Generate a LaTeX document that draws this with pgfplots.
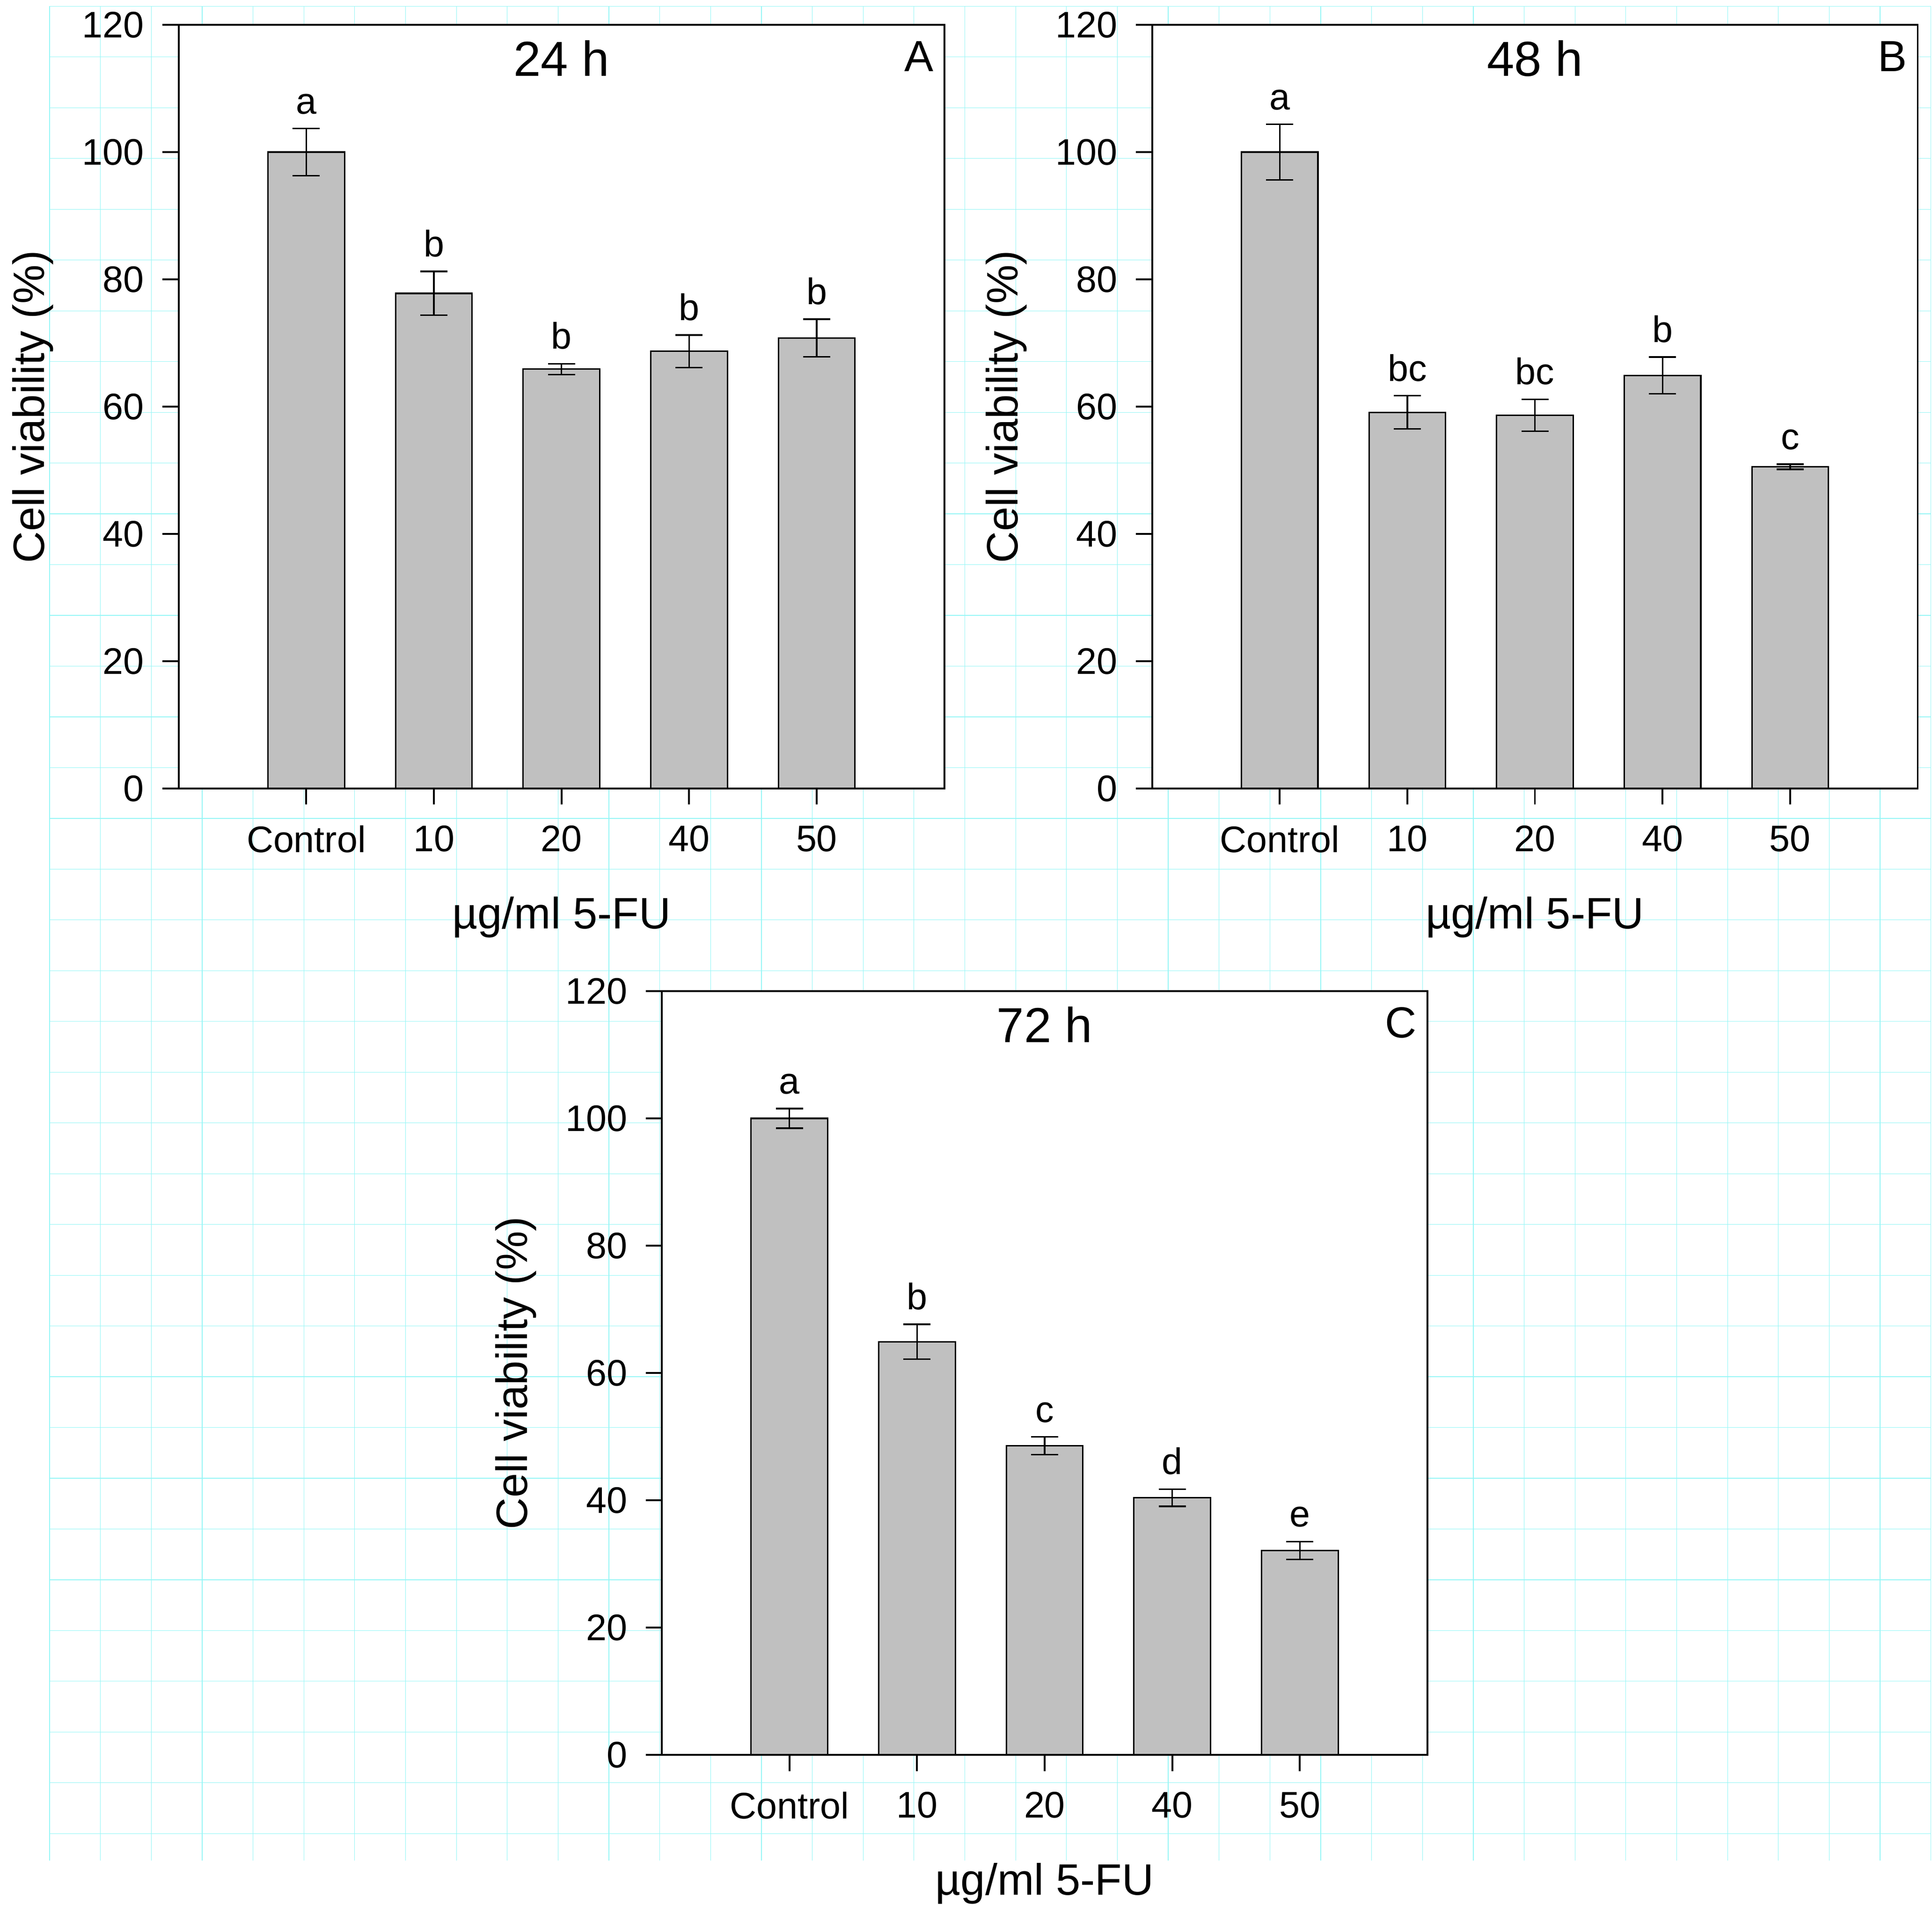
\documentclass[border=0pt]{standalone}
\usepackage{fontspec}
\setmainfont{Liberation Sans}
\usepackage{pgfplots}
\pgfplotsset{compat=1.18}
\definecolor{barGray}{RGB}{192,192,192}
\definecolor{pageGrid}{RGB}{150,246,246}

\tikzset{
  panelletter/.style={anchor=base east, inner sep=0pt, font=\fontsize{9.3}{11}\selectfont},
  paneltitle/.style={anchor=base, inner sep=0pt, font=\fontsize{10.5}{12}\selectfont},
}

\pgfplotsset{
  panel/.style={
    anchor=south west,
    scale only axis, width=163.6pt, height=163.2pt,
    xmin=0, xmax=6, ymin=0, ymax=120,
    xtick={1,2,3,4,5}, xticklabels={Control,10,20,40,50},
    ytick={0,20,...,120},
    tick align=outside, xtick pos=bottom, ytick pos=left,
    major tick length=3.45pt,
    tick style={black, line width=0.38pt},
    axis line style={black, line width=0.38pt},
    axis background/.style={fill=white},
    tick label style={font=\fontsize{7.9}{9}\selectfont},
    /pgf/number format/assume math mode=true,
    yticklabel style={inner sep=0pt, xshift=-3.75pt},
    xticklabel style={inner sep=0pt, yshift=-4.25pt},
    xlabel={µg/ml 5-FU}, ylabel={Cell viability (\%)},
    label style={font=\fontsize{9.4}{11}\selectfont},
    xlabel style={at={(axis description cs:0.5,-0.1838)}, anchor=base, inner sep=0pt},
    ylabel style={at={(axis description cs:-0.1905,0.5)}, anchor=center, inner sep=0pt},
    clip=false,
  },
  bars/.style={
    ybar, bar shift=0pt, bar width=0.6, fill=barGray, draw=black, line width=0.32pt,
    error bars/y dir=both, error bars/y explicit,
    error bars/error bar style={line width=0.32pt, black, solid},
    error bars/error mark options={rotate=90, line width=0.32pt, black, mark size=2.9pt},
  },
  letters/.style={
    draw=none, mark=none, nodes near coords, point meta=explicit symbolic,
    nodes near coords align={anchor=base},
    every node near coord/.append style={anchor=base, yshift=3.16pt, inner sep=0pt,
      font=\fontsize{7.9}{9}\selectfont, text=black},
  },
}

\begin{document}
\begin{tikzpicture}
\useasboundingbox (0,0) rectangle (412.8pt,410.2pt);

% page grid in the background
\begin{axis}[
  at={(10.6pt,12.6pt)}, anchor=south west,
  scale only axis, width=401.97pt, height=396.26pt,
  xmin=0, xmax=37, ymin=-36.532, ymax=0,
  xtick={0,...,37}, ytick={-36,...,0},
  xticklabels={}, yticklabels={},
  tick label style={opacity=0},
  grid=major, major grid style={line width=0.12pt, draw=pageGrid},
  axis line style={draw=none}, major tick length=0pt,
]
\addplot[draw=none, mark=none] coordinates {(0,0)};
\end{axis}

% Panel A: 24 h
\begin{axis}[panel, at={(38.17pt,241.7pt)}]
\addplot[bars] coordinates {
  (1,100.0) +- (0,3.7)
  (2,77.8)  +- (0,3.45)
  (3,65.9)  +- (0,0.85)
  (4,68.7)  +- (0,2.55)
  (5,70.8)  +- (0,2.95)
};
\addplot[letters] coordinates {
  (1,103.7)[a] (2,81.25)[b] (3,66.75)[b] (4,71.25)[b] (5,73.75)[b]
};
\node[paneltitle] at (axis description cs:0.5,0.9326) {24 h};
\node[panelletter] at (axis description cs:0.98716,0.93903) {A};
\end{axis}

% Panel B: 48 h
\begin{axis}[panel, at={(246.16pt,241.7pt)}]
\addplot[bars] coordinates {
  (1,100.0) +- (0,4.35)
  (2,59.1)  +- (0,2.6)
  (3,58.65) +- (0,2.5)
  (4,64.9)  +- (0,2.9)
  (5,50.55) +- (0,0.4)
};
\addplot[letters] coordinates {
  (1,104.35)[a] (2,61.7)[bc] (3,61.15)[bc] (4,67.8)[b] (5,50.95)[c]
};
\node[paneltitle] at (axis description cs:0.5,0.9326) {48 h};
\node[panelletter] at (axis description cs:0.98716,0.93903) {B};
\end{axis}

% Panel C: 72 h
\begin{axis}[panel, at={(141.4pt,35.2pt)}]
\addplot[bars] coordinates {
  (1,100.0) +- (0,1.55)
  (2,64.9)  +- (0,2.75)
  (3,48.55) +- (0,1.4)
  (4,40.4)  +- (0,1.35)
  (5,32.1)  +- (0,1.4)
};
\addplot[letters] coordinates {
  (1,101.55)[a] (2,67.65)[b] (3,49.95)[c] (4,41.75)[d] (5,33.5)[e]
};
\node[paneltitle] at (axis description cs:0.5,0.9326) {72 h};
\node[panelletter] at (axis description cs:0.98716,0.93903) {C};
\end{axis}
\end{tikzpicture}
\end{document}
